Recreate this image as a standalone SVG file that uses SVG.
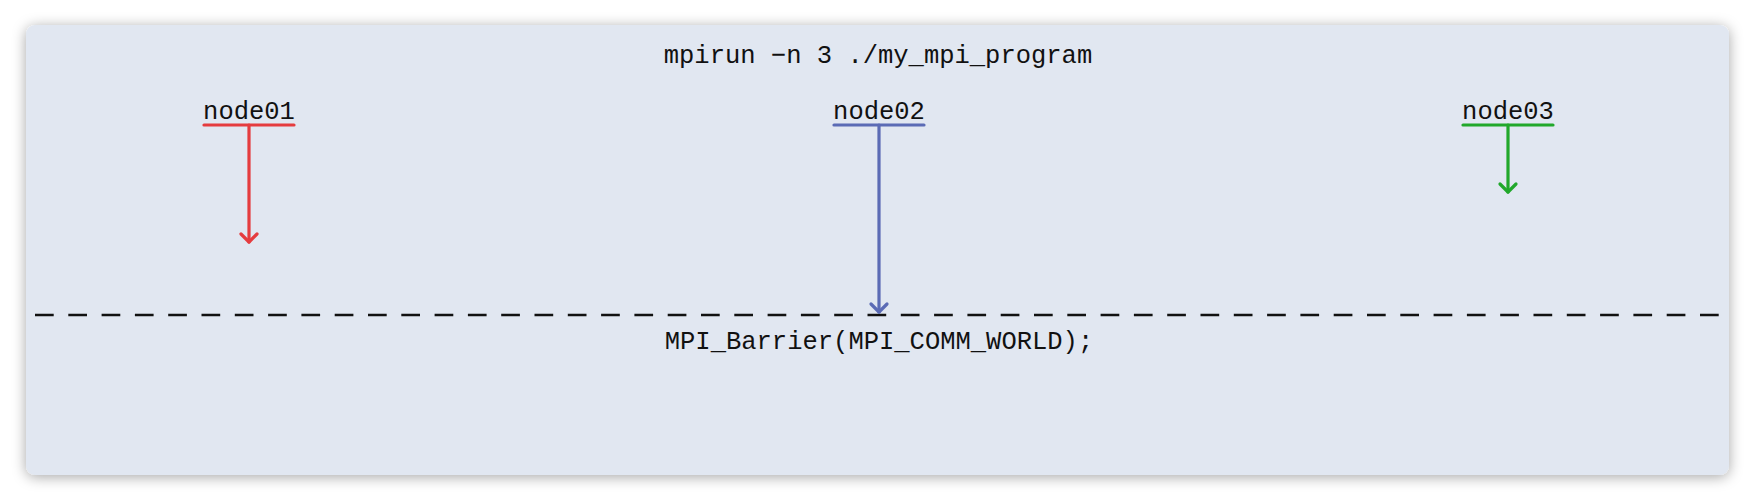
<svg xmlns="http://www.w3.org/2000/svg" width="1755" height="501" viewBox="0 0 1755 501">
<defs>
<filter id="sh" x="-5%" y="-20%" width="110%" height="140%">
<feDropShadow dx="0" dy="2" stdDeviation="7" flood-color="#000" flood-opacity="0.35"/>
</filter>
<style>
.t{font-family:"Liberation Mono","DejaVu Sans Mono",monospace;font-size:25.5px;fill:#111;text-anchor:middle}
.ln{fill:none;stroke-width:3.2;stroke-linecap:round;stroke-linejoin:round}
.red{stroke:#e53c3f}
.blue{stroke:#5b6bb5}
.green{stroke:#21a82b}
</style>
</defs>
<rect x="0" y="0" width="1755" height="501" fill="#ffffff"/>
<rect id="card" x="26" y="25" width="1703" height="450" rx="9" fill="#e1e7f1" filter="url(#sh)"/>
<text class="t" x="878" y="63">mpirun −n 3 ./my_mpi_program</text>
<g id="node01">
<text class="t" x="249" y="119">node01</text>
<line class="ln red" x1="204" y1="125" x2="294" y2="125"/>
</g>
<g id="node02">
<text class="t" x="879" y="119">node02</text>
<line class="ln blue" x1="834" y1="125" x2="924" y2="125"/>
</g>
<g id="node03">
<text class="t" x="1508" y="119">node03</text>
<line class="ln green" x1="1463" y1="125" x2="1553" y2="125"/>
</g>
<g id="barrier">
<line x1="35" y1="315" x2="1722" y2="315" stroke="#111" stroke-width="2.6" stroke-dasharray="18.7 14.6"/>
<text class="t" x="879" y="349">MPI_Barrier(MPI_COMM_WORLD);</text>
</g>
<g id="connectors">
<line class="ln red" x1="249" y1="125" x2="249" y2="242"/>
<polyline class="ln red" points="241,234 249,242 257,234"/>
<line class="ln blue" x1="879" y1="125" x2="879" y2="312"/>
<polyline class="ln blue" points="871,304 879,312 887,304"/>
<line class="ln green" x1="1508" y1="125" x2="1508" y2="192"/>
<polyline class="ln green" points="1500,184 1508,192 1516,184"/>
</g>
</svg>
